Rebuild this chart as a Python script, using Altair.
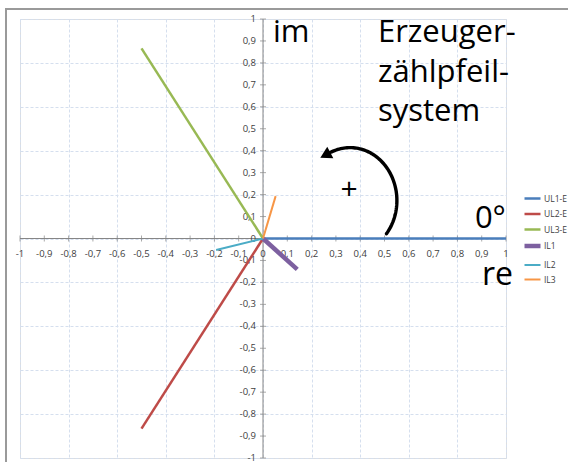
import altair as alt
import numpy as np
import pandas as pd

# Phasors (real / imaginary part of each tip; every phasor starts at the origin)
series = ["UL1-E", "UL2-E", "UL3-E", "IL1", "IL2", "IL3"]
tip_re = [1.0, -0.5, -0.5, 0.141, -0.193, 0.052]
tip_im = [0.0, -0.866, 0.866, -0.141, -0.052, 0.193]
colors = ["#4A7EBB", "#BE4B48", "#98B954", "#7D60A0", "#4BACC6", "#F79646"]
widths = [2.5, 2.5, 2.5, 4.5, 2, 2]

# Axis ticks and their labels (decimal comma)
tick_values = [-1.0, -0.9, -0.8, -0.7, -0.6, -0.5, -0.4, -0.3, -0.2, -0.1, 0.0,
               0.1, 0.2, 0.3, 0.4, 0.5, 0.6, 0.7, 0.8, 0.9, 1.0]
tick_labels = ["-1", "-0,9", "-0,8", "-0,7", "-0,6", "-0,5", "-0,4", "-0,3", "-0,2", "-0,1", "0",
               "0,1", "0,2", "0,3", "0,4", "0,5", "0,6", "0,7", "0,8", "0,9", "1"]

# Annotation texts
notes = ["im", "Erzeuger-", "zählpfeil-", "system", "0°", "re", "+"]
note_x = [0.041, 0.473, 0.473, 0.473, 0.872, 0.901, 0.354]
note_y = [0.893, 0.893, 0.711, 0.535, 0.05, -0.214, 0.219]
note_size = [31, 31, 31, 31, 31, 32, 30]

# Rotation arrow (elliptical arc, counter-clockwise)
arc_cx, arc_cy, arc_rx, arc_ry = 0.358, 0.173, 0.193, 0.241
arc_start_deg, arc_end_deg = -39, 115

W, H = 486, 439
FONT = "Open Sans"

rows = []
for s, re_, im_ in zip(series, tip_re, tip_im):
    rows.append({"series": s, "k": 0, "re": 0.0, "im": 0.0})
    rows.append({"series": s, "k": 1, "re": re_, "im": im_})
phasors = pd.DataFrame(rows)

xs = alt.Scale(domain=[-1, 1], nice=False, zero=False)
ys = alt.Scale(domain=[-1, 1], nice=False, zero=False)

grid_axis = dict(values=tick_values, grid=True, gridColor="#D5DFEE", gridDash=[3, 2],
                 gridWidth=1, labels=False, ticks=False, domain=False, title=None)

ticks = pd.DataFrame({"v": tick_values, "lab": tick_labels})

grid = alt.Chart(ticks).mark_point(opacity=0).encode(
    x=alt.X("v:Q", scale=xs, axis=alt.Axis(**grid_axis)),
    y=alt.Y("v:Q", scale=ys, axis=alt.Axis(**grid_axis)),
)

frame = alt.Chart(ticks).mark_rect(filled=False, stroke="#9A9A9A", strokeWidth=1.5).encode(
    x=alt.value(-14), x2=alt.value(620), y=alt.value(-10), y2=alt.value(520)
)

axes_df = pd.DataFrame({"x": [-1.0, 0.0], "x2": [1.0, 0.0], "y": [0.0, -1.0], "y2": [0.0, 1.0]})
axes = alt.Chart(axes_df).mark_rule(color="#868686", strokeWidth=1).encode(
    x="x:Q", x2="x2:Q", y="y:Q", y2="y2:Q"
)

xticks = alt.Chart(ticks).mark_tick(orient="vertical", size=6, thickness=1, color="#868686").encode(
    x="v:Q", y=alt.datum(0)
)
yticks = alt.Chart(ticks).mark_tick(orient="horizontal", size=6, thickness=1, color="#868686").encode(
    y="v:Q", x=alt.datum(0)
)
xlabels = alt.Chart(ticks).mark_text(font=FONT, fontSize=9.5, color="#404040", dy=15,
                                     align="center", baseline="middle").encode(
    x="v:Q", y=alt.datum(0), text="lab:N"
)
ylabels = alt.Chart(ticks).mark_text(font=FONT, fontSize=9.5, color="#404040", dx=-7,
                                     align="right", baseline="middle").encode(
    y="v:Q", x=alt.datum(0), text="lab:N"
)

legend = alt.Legend(orient="none", legendX=502, legendY=170, title=None,
                    symbolType="stroke", symbolSize=256,
                    labelFont=FONT, labelFontSize=8.5, labelColor="#404040",
                    labelOffset=1, rowPadding=0.5, padding=0)

lines = alt.Chart(phasors).mark_line(strokeCap="butt").encode(
    x=alt.X("re:Q", scale=xs),
    y=alt.Y("im:Q", scale=ys),
    order="k:Q",
    color=alt.Color("series:O", sort=series, scale=alt.Scale(domain=series, range=colors),
                    title=None, legend=legend),
    strokeWidth=alt.StrokeWidth("series:O", sort=series,
                                scale=alt.Scale(type="ordinal", domain=series, range=widths),
                                title=None, legend=legend),
)

t = np.radians(np.linspace(arc_start_deg, arc_end_deg, 80))
arc_df = pd.DataFrame({"i": np.arange(len(t)),
                       "x": arc_cx + arc_rx * np.cos(t),
                       "y": arc_cy + arc_ry * np.sin(t)})
arc = alt.Chart(arc_df).mark_line(color="black", strokeWidth=3.4, strokeCap="round").encode(
    x="x:Q", y="y:Q", order="i:Q"
)

# arrow head just past the end of the arc, along its tangent (in pixels)
te = np.radians(arc_end_deg)
tan_px = np.array([-arc_rx * np.sin(te) * W / 2, -arc_ry * np.cos(te) * H / 2])
tan_px = tan_px / np.linalg.norm(tan_px)
head_px = tan_px * 5.5
head_df = pd.DataFrame({"x": [arc_cx + arc_rx * np.cos(te) + head_px[0] / (W / 2)],
                        "y": [arc_cy + arc_ry * np.sin(te) - head_px[1] / (H / 2)]})
head_angle = float(np.degrees(np.arctan2(tan_px[0], -tan_px[1])) % 360)
head = alt.Chart(head_df).mark_point(shape="triangle-up", filled=True, color="black",
                                     opacity=1, size=170, angle=head_angle).encode(
    x="x:Q", y="y:Q"
)

notes_df = pd.DataFrame({"t": notes, "x": note_x, "y": note_y, "s": note_size,
                         "b": ["alphabetic"] * 6 + ["middle"]})
texts = []
for b in ["alphabetic", "middle"]:
    sub = notes_df[notes_df["b"] == b]
    texts.append(alt.Chart(sub).mark_text(font=FONT, color="black",
                                          align="left" if b == "alphabetic" else "center",
                                          baseline=b).encode(
        x="x:Q", y="y:Q", text="t:N", size=alt.Size("s:Q", scale=None, legend=None)
    ))

chart = alt.layer(grid, frame, axes, xticks, yticks, xlabels, ylabels, lines, arc, head, *texts).properties(
    width=W, height=H,
    padding={"left": 20, "top": 19, "right": 62, "bottom": 4},
    autosize=alt.AutoSizeParams(type="none"),
).configure_view(stroke=None).configure(background="white")

chart.save("out.html", embed_options={"renderer": "svg", "actions": False})
